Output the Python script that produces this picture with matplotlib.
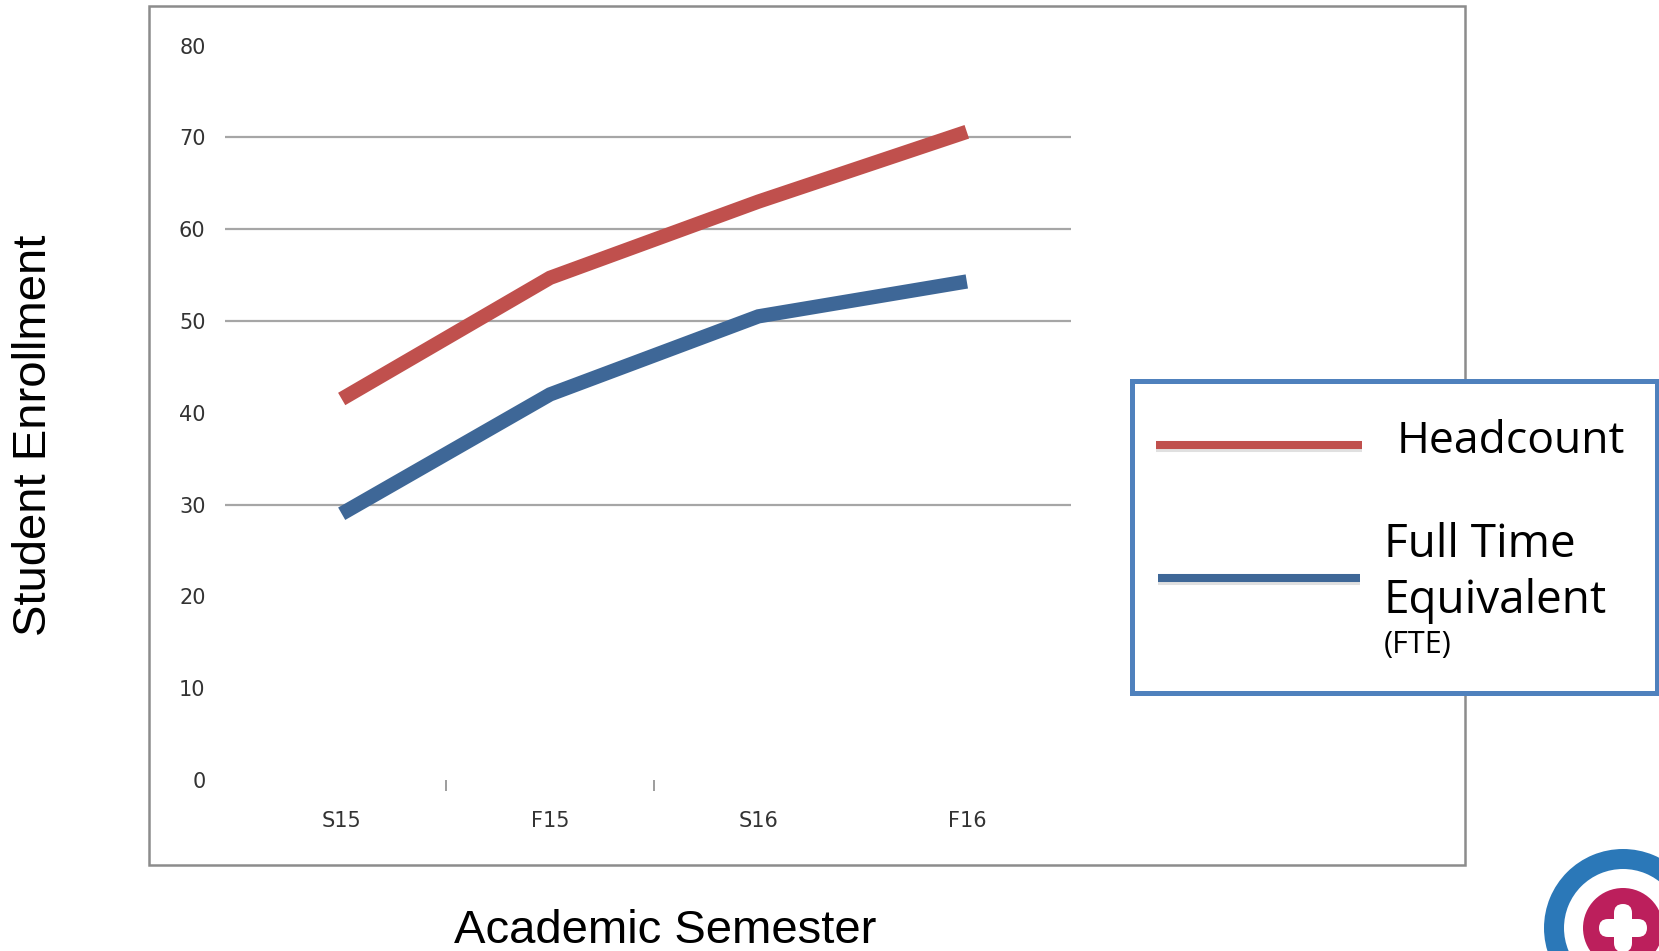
import matplotlib
matplotlib.use("Agg")
import matplotlib.pyplot as plt
from matplotlib.patches import Rectangle, Circle, Wedge, FancyBboxPatch
import matplotlib.patheffects as pe

# ---- data ----
categories = ["S15", "F15", "S16", "F16"]
headcount = [41.5, 54.7, 63.0, 70.6]
fte = [29.0, 42.0, 50.5, 54.3]
y_ticks = [0, 10, 20, 30, 40, 50, 60, 70, 80]
grid_values = [30, 50, 60, 70]
legend_labels = ["Headcount", "Full Time\nEquivalent", "(FTE)"]
x_title = "Academic Semester"
y_title = "Student Enrollment"

RED = "#C0504D"
BLUE = "#3E6797"
W, H = 1659, 951

fig = plt.figure(figsize=(W / 100, H / 100), dpi=100)
fig.patch.set_facecolor("white")

# main axes (pixel geometry: x 225..1071, y 45.5..780 from top)
ax = fig.add_axes([225 / W, 1 - 780 / H, (1071 - 225) / W, (780 - 45.5) / H])
ax.set_facecolor("none")
for s in ax.spines.values():
    s.set_visible(False)
x = list(range(len(categories)))
ax.set_xlim(-0.56, 3.5)
ax.set_ylim(0, 80)
for g in grid_values:
    ax.axhline(g, color="#A6A6A6", lw=1.6, zorder=1)
ax.plot(x, headcount, color=RED, lw=10.3, solid_capstyle="butt",
        solid_joinstyle="miter", zorder=3)
ax.plot(x, fte, color=BLUE, lw=10.3, solid_capstyle="butt",
        solid_joinstyle="miter", zorder=3)

tick_font = dict(family=["Liberation Sans Narrow", "DejaVu Sans"], size=15, color="#333333")
ax.set_yticks(y_ticks)
ax.set_yticklabels([str(v) for v in y_ticks], **tick_font)
ax.tick_params(axis="y", length=0, pad=14)
ax.set_xticks(x)
ax.set_xticklabels(categories, **tick_font)
ax.set_xticks([0.5, 1.5], minor=True)
ax.tick_params(axis="x", which="major", length=0, pad=22)
ax.tick_params(axis="x", which="minor", length=8, width=1.2, color="#8C8C8C", direction="out")

# overlay in pixel coordinates for frame, legend, titles, logo
ov = fig.add_axes([0, 0, 1, 1], zorder=5)
ov.set_xlim(0, W)
ov.set_ylim(H, 0)
ov.axis("off")
ov.patch.set_alpha(0)

# chart frame
ov.add_patch(Rectangle((149, 6), 1465 - 149, 865 - 6, fill=False,
                       edgecolor="#8C8C8C", lw=1.8))

# legend box
ov.add_patch(Rectangle((1132, 381), 1657 - 1132, 693 - 381, facecolor="white",
                       edgecolor="#4F81BD", lw=3.6, zorder=2))
shadow = [pe.SimpleLineShadow(offset=(0, -2.5), shadow_color="#000000", alpha=0.12),
          pe.Normal()]
ov.plot([1156, 1362], [445, 445], color=RED, lw=5.8, solid_capstyle="butt",
        path_effects=shadow, zorder=3)
ov.plot([1158, 1360], [578, 578], color=BLUE, lw=5.8, solid_capstyle="butt",
        path_effects=shadow, zorder=3)
leg_font = ["Open Sans", "DejaVu Sans"]
ov.text(1397, 453, legend_labels[0], family=leg_font, size=32, va="baseline",
        ha="left", color="black", zorder=4)
ov.text(1384, 557, "Full Time", family=leg_font, size=33, va="baseline",
        ha="left", color="black", zorder=4)
ov.text(1384, 613, "Equivalent", family=leg_font, size=33, va="baseline",
        ha="left", color="black", zorder=4)
ov.text(1384, 653, legend_labels[2], family=leg_font, size=22, va="baseline",
        ha="left", color="black", zorder=4)

# axis titles
title_font = ["Liberation Sans", "DejaVu Sans"]
ov.text(34, 435, y_title, family=title_font, size=34, rotation=90,
        ha="center", va="center", color="black")
ov.text(665, 943, x_title, family=title_font, size=34, ha="center",
        va="baseline", color="black")

# logo (bottom right)
cx, cy = 1623, 928
ov.add_patch(Wedge((cx, cy), 79, 0, 360, width=20, facecolor="#2B78B8",
                   edgecolor="none", zorder=6))
ov.add_patch(Circle((cx, cy), 40, facecolor="#BC1F5C", edgecolor="none", zorder=6))
ov.add_patch(FancyBboxPatch((cx - 24, cy - 9), 48, 18,
                            boxstyle="round,pad=0,rounding_size=9",
                            facecolor="white", edgecolor="none", zorder=7))
ov.add_patch(FancyBboxPatch((cx - 9, cy - 24), 18, 48,
                            boxstyle="round,pad=0,rounding_size=9",
                            facecolor="white", edgecolor="none", zorder=7))

fig.savefig("out.png", dpi=100)
